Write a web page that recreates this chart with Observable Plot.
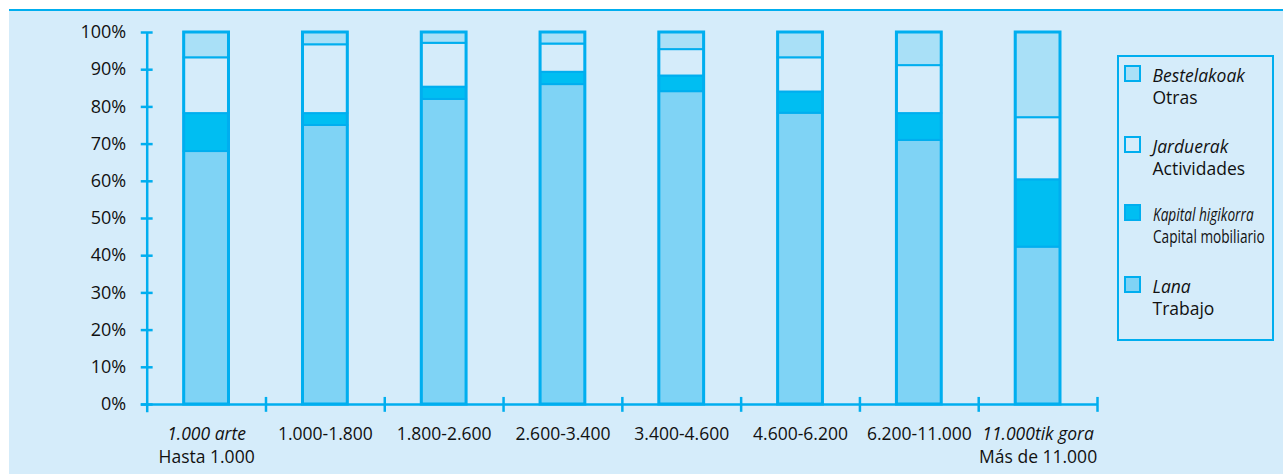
<!DOCTYPE html>
<html><head><meta charset="utf-8">
<script src="https://cdn.jsdelivr.net/npm/d3@7"></script>
<script src="https://cdn.jsdelivr.net/npm/@observablehq/plot@0.6"></script>
<style>
html,body{margin:0;padding:0;background:#fff;}
#frame{position:relative;width:1283px;height:474px;overflow:hidden;background:#fff;font-family:"Open Sans",sans-serif;color:#111;}
#bg{position:absolute;left:9px;top:9px;right:0;bottom:0;background:#d5ecfa;border-top:2.5px solid #00aeef;}
#chart{position:absolute;left:0;top:0;}
#legend{position:absolute;left:1117px;top:55px;width:153px;height:282px;border:2.5px solid #00aeef;}
.item{position:absolute;left:4.5px;}
.sw{position:absolute;left:0;top:0;width:13px;height:13px;border:2.5px solid #00aeef;}
.txt{position:absolute;left:29px;top:0.5px;font-size:17.5px;line-height:21.5px;white-space:nowrap;}
.txt i{font-style:italic;}
.cond{display:inline-block;transform:scaleX(0.78);transform-origin:left center;}
</style>
</head><body>
<div id="frame"><div id="bg"></div><div id="chart"></div><div id="legend"></div></div>
<script>
// Categories (income brackets)
const catEus = ["1.000 arte", "1.000-1.800", "1.800-2.600", "2.600-3.400", "3.400-4.600", "4.600-6.200", "6.200-11.000", "11.000tik gora"];
const catEs = ["Hasta 1.000", "", "", "", "", "", "", "Más de 11.000"];
const catItalic = [true, false, false, false, false, false, false, true];

// Series (bottom to top)
const seriesEus = ["Lana", "Kapital higikorra", "Jarduerak", "Bestelakoak"];
const seriesEs = ["Trabajo", "Capital mobiliario", "Actividades", "Otras"];
const seriesColors = ["#7fd3f5", "#00bef2", "#d5ecfa", "#a9e0f7"];

// Values (%)
const trabajo =     [68.0, 75.0, 82.0, 86.0, 84.1, 78.3, 71.0, 42.3];
const capital =     [10.2,  3.2,  3.3,  3.3,  4.2,  5.7,  7.2, 18.1];
const actividades = [15.0, 18.5, 11.8,  7.6,  7.1,  9.2, 12.9, 16.7];
const otras =       [ 6.8,  3.3,  2.9,  3.1,  4.6,  6.8,  8.9, 22.9];

const yTicks = [0, 10, 20, 30, 40, 50, 60, 70, 80, 90, 100];

const seriesValues = [trabajo, capital, actividades, otras];
const rows = [];
catEus.forEach((c, i) => {
  seriesEus.forEach((s, k) => rows.push({i, cat: c, series: s, value: seriesValues[k][i]}));
});
const cats = catEus.map((c, i) => ({i, eus: c, es: catEs[i], italic: catItalic[i]}));

const AX = "#00aeef";
const TXT = "#111";
const FS = 17.5;
const chart = Plot.plot({
  width: 1283, height: 474,
  marginLeft: 146.7, marginRight: 186, marginTop: 32, marginBottom: 70,
  style: {background: "transparent", fontFamily: "'Open Sans', sans-serif", fontSize: FS + "px", color: TXT},
  x: {domain: [0, catEus.length], axis: null},
  y: {domain: [0, 100], axis: null},
  color: {domain: seriesEus, range: seriesColors},
  marks: [
    Plot.rectY(rows, {x1: "i", x2: d => d.i + 1, y: "value", z: "series", fill: "series", order: seriesEus,
      stroke: AX, strokeWidth: 2, insetLeft: 37, insetRight: 37}),
    Plot.rect(cats, {x1: "i", x2: d => d.i + 1, y1: 0, y2: 100, fill: "none", stroke: AX, strokeWidth: 3,
      insetLeft: 37, insetRight: 37}),
    Plot.ruleX([0], {y1: -2.2, y2: 100, stroke: AX, strokeWidth: 2.5}),
    Plot.ruleY(yTicks, {x1: -0.05, x2: 0.05, stroke: AX, strokeWidth: 2.5}),
    Plot.ruleY([0], {x1: -0.05, x2: catEus.length, stroke: AX, strokeWidth: 2.5}),
    Plot.ruleX(cats, {x: d => d.i + 1, y1: -2.1, y2: 1.9, stroke: AX, strokeWidth: 2.5}),
    Plot.axisY({ticks: yTicks, tickSize: 0, tickPadding: 21, tickFormat: d => d + "%", label: null, fontSize: FS + 0.5, fill: TXT}),
    Plot.text(cats.filter(d => d.italic), {x: d => d.i + 0.5, y: 0, text: "eus", dy: 30, fontStyle: "italic", fontSize: FS, fill: TXT}),
    Plot.text(cats.filter(d => !d.italic), {x: d => d.i + 0.5, y: 0, text: "eus", dy: 30, fontSize: FS, fill: TXT}),
    Plot.text(cats.filter(d => d.es), {x: d => d.i + 0.5, y: 0, text: "es", dy: 53, fontSize: FS, fill: TXT})
  ]
});
document.getElementById("chart").appendChild(chart);

// Legend (top to bottom: reverse of stacking)
const legendTops = [7.5, 78.5, 146.5, 218.5];
const legend = document.getElementById("legend");
[3, 2, 1, 0].forEach((k, j) => {
  const item = document.createElement("div");
  item.className = "item";
  item.style.top = legendTops[j] + "px";
  const cond = k === 1;
  const wrap = s => cond ? `<span class="cond">${s}</span>` : s;
  item.innerHTML = `<div class="sw" style="background:${seriesColors[k]}"></div>` +
    `<div class="txt"><i>${wrap(seriesEus[k])}</i><br>${wrap(seriesEs[k])}</div>`;
  legend.appendChild(item);
});
</script>
</body></html>
